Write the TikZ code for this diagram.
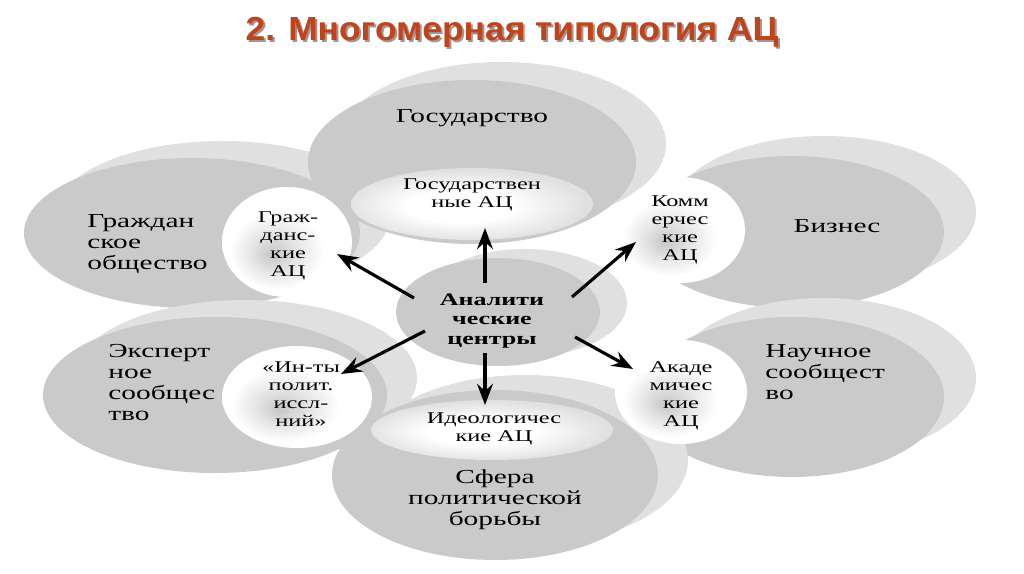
\documentclass[tikz,border=0pt]{standalone}
\usepackage{graphicx}
\usepackage{fontspec}
\setmainfont{Liberation Serif}
\newfontfamily\titlefont{Liberation Sans}
\usetikzlibrary{shapes.geometric,arrows.meta}
\definecolor{frontgray}{RGB}{202,202,202}
\definecolor{backgray}{RGB}{224,224,224}
\definecolor{titlered}{RGB}{194,66,26}
\pgfdeclareradialshading{glow}{\pgfpoint{-6bp}{-6bp}}{color(0bp)=(black!22); color(9bp)=(black!10); color(18bp)=(white); color(50bp)=(white)}
\pgfdeclareradialshading{rim}{\pgfpoint{-3bp}{-2bp}}{color(0bp)=(white); color(11bp)=(white); color(25bp)=(black!12); color(50bp)=(black!12)}
\newcommand\wtxt[3]{\scalebox{1.48}[1]{#1\begin{tabular}{@{}#2@{}}#3\end{tabular}}}
\newcommand\fbig{\fontsize{11.3}{11.9}\selectfont}
\newcommand\fsml{\fontsize{9.35}{10.2}\selectfont}
\newcommand\fcen{\fontsize{10}{11.3}\selectfont\bfseries}
\newcommand\ttl{\scalebox{1.06}[1]{\titlefont\bfseries\fontsize{19}{22}\selectfont 2. Многомерная типология АЦ}}
\tikzset{
  txt/.style={inner sep=0pt, text=black},
  backdisk/.style={fill=backgray},
  frontdisk/.style={fill=frontgray},
  smallc/.style={ellipse, inner sep=0pt, shade, shading=glow},
  wideell/.style={ellipse, inner sep=0pt, shade, shading=rim},
  arr/.style={line width=1.8pt, -{Stealth[length=12pt,width=9pt,inset=4pt]}}
}
\begin{document}
\begin{tikzpicture}[x=0.02cm,y=-0.02cm]
\useasboundingbox[fill=white] (0,0) rectangle (1024,574);

% title
\node[txt, anchor=base, text=black!40] (titleshadow) at (514,43) {\ttl};
\node[txt, anchor=base, text=titlered] (title) at (512,41) {\ttl};

% back row disks
\fill[backdisk] (824,212) ellipse [x radius=152, y radius=76];
\fill[frontdisk] (792,232) ellipse [x radius=152, y radius=76];
\fill[backdisk] (824,378) ellipse [x radius=152, y radius=80];
\fill[frontdisk] (792,397) ellipse [x radius=152, y radius=80];
\fill[backdisk] (222,216) ellipse [x radius=168, y radius=75];
\fill[frontdisk] (192,233) ellipse [x radius=168, y radius=75];
\fill[backdisk] (245,378) ellipse [x radius=172, y radius=78];
\fill[frontdisk] (215,395) ellipse [x radius=172, y radius=78];
% front row disks
\fill[backdisk] (502,144) ellipse [x radius=164, y radius=82];
\fill[frontdisk] (472,162) ellipse [x radius=164, y radius=82];
\fill[backdisk] (525,460) ellipse [x radius=163, y radius=85];
\fill[frontdisk] (495,475) ellipse [x radius=163, y radius=85];

% center disk
\fill[backdisk] (525,303) ellipse [x radius=102, y radius=54];
\node[ellipse, inner sep=0pt, frontdisk, minimum width=4.08cm, minimum height=2.16cm] (ac) at (498,312) {};

% small circles
\node[smallc, minimum width=2.6cm, minimum height=2.2cm] (cgr) at (287,242) {};
\node[smallc, minimum width=2.6cm, minimum height=2.12cm] (ccom) at (680,230) {};
\node[smallc, minimum width=3.0cm, minimum height=2.04cm] (cins) at (297,397) {};
\node[smallc, minimum width=2.64cm, minimum height=2.08cm] (cacad) at (681,392) {};
\node[wideell, minimum width=4.84cm, minimum height=1.44cm] (cgov) at (472,204) {};
\node[wideell, minimum width=4.84cm, minimum height=1.2cm] (cid) at (492,430) {};

% big disk labels
\node[txt] (tgos) at (472,118) {\wtxt{\fbig}{c}{Государство}};
\node[txt, anchor=west] (tgrob) at (87,244) {\wtxt{\fbig}{l}{Граждан\\ское\\общество}};
\node[txt, anchor=west] (texp) at (108,385) {\wtxt{\fbig}{l}{Эксперт\\ное\\сообщес\\тво}};
\node[txt] (tbiz) at (837,228) {\wtxt{\fbig}{c}{Бизнес}};
\node[txt, anchor=west] (tnauch) at (765,374) {\wtxt{\fbig}{l}{Научное\\сообщест\\во}};
\node[txt] (tsfera) at (495,500) {\wtxt{\fbig}{c}{Сфера\\политической\\борьбы}};

% small labels
\node[txt] (lgr) at (288,246) {\wtxt{\fsml}{c}{Граж-\\данс-\\кие\\АЦ}};
\node[txt] (lcom) at (680,230) {\wtxt{\fsml}{c}{Комм\\ерчес\\кие\\АЦ}};
\node[txt] (lins) at (301,396) {\wtxt{\fsml}{c}{«Ин-ты\\полит.\\иссл-\\ний»}};
\node[txt] (lacad) at (681,396) {\wtxt{\fsml}{c}{Акаде\\мичес\\кие\\АЦ}};
\node[txt] (lgov) at (472,195) {\wtxt{\fsml}{c}{Государствен\\ные АЦ}};
\node[txt] (lid) at (494,429) {\wtxt{\fsml}{c}{Идеологичес\\кие АЦ}};
\node[txt] (lac) at (492,321) {\wtxt{\fcen}{c}{Аналити\\ческие\\центры}};

% arrows
\coordinate (u0) at (485,283);  \coordinate (u1) at (485,228);
\coordinate (d0) at (485,353);  \coordinate (d1) at (485,405);
\coordinate (ul0) at (414,298); \coordinate (ul1) at (337,254);
\coordinate (ur0) at (572,297); \coordinate (ur1) at (636,242);
\coordinate (dl0) at (425,331); \coordinate (dl1) at (341,374);
\coordinate (dr0) at (575,337); \coordinate (dr1) at (633,369);
\draw[arr] (u0) -- (u1);
\draw[arr] (d0) -- (d1);
\draw[arr] (ul0) -- (ul1);
\draw[arr] (ur0) -- (ur1);
\draw[arr] (dl0) -- (dl1);
\draw[arr] (dr0) -- (dr1);
\end{tikzpicture}
\end{document}
